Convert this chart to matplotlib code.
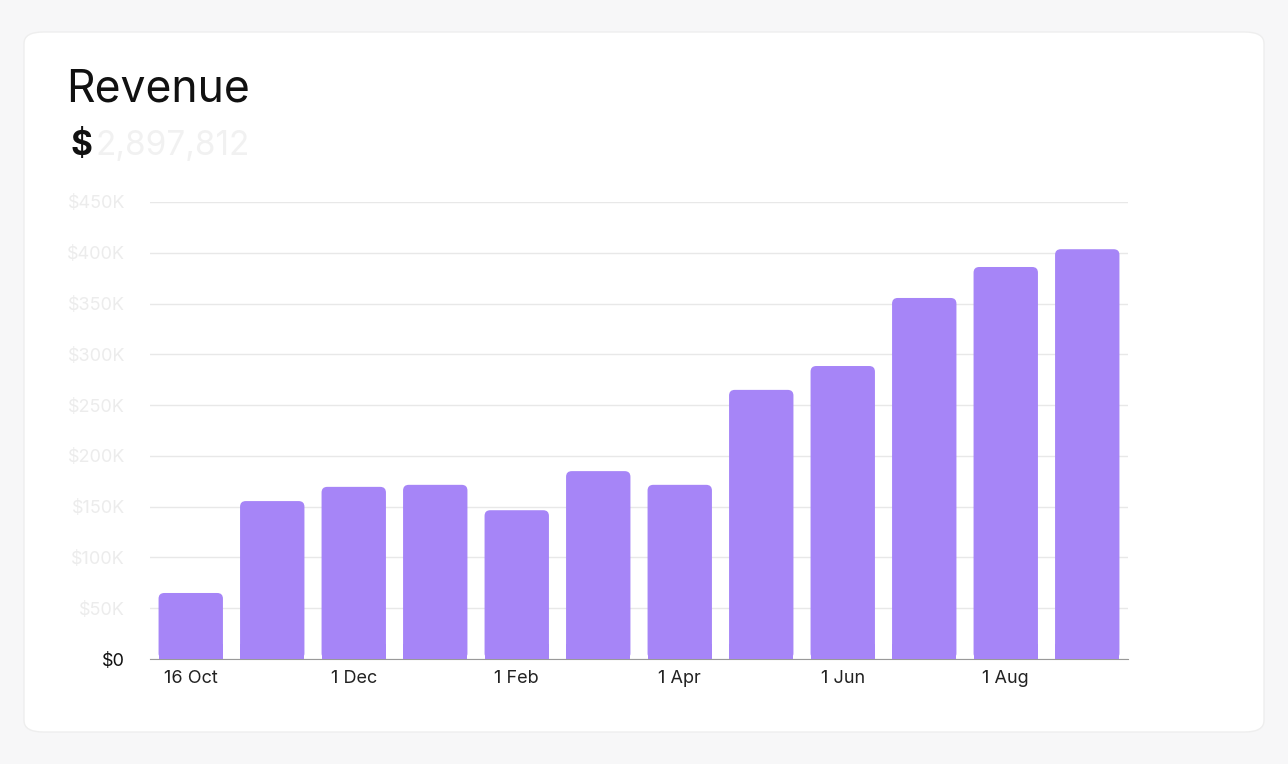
import matplotlib

matplotlib.use("Agg")
import matplotlib.pyplot as plt
from matplotlib.patches import FancyBboxPatch, Rectangle

plt.rcParams["font.family"] = ["Inter", "DejaVu Sans"]

# revenue per period, in $50K grid units
months = ["16 Oct", "", "1 Dec", "", "1 Feb", "", "1 Apr", "", "1 Jun", "", "1 Aug", ""]
revenue = [1.30, 3.11, 3.39, 3.43, 2.93, 3.70, 3.43, 5.30, 5.77, 7.11, 7.72, 8.07]
grid_labels = ["$0", "$50K", "$100K", "$150K", "$200K", "$250K", "$300K", "$350K", "$400K", "$450K"]

W, H = 1288, 764
fig = plt.figure(figsize=(W / 100, H / 100), dpi=100)
fig.patch.set_facecolor("#f7f7f8")

# card behind everything
card = FancyBboxPatch((24 / W, 32 / H), 1240 / W, 700 / H,
                      boxstyle="round,pad=0,rounding_size=0.015",
                      transform=fig.transFigure, facecolor="white",
                      edgecolor="#eeeeee", linewidth=1, zorder=-10)
fig.patches.append(card)

fig.text(66 / W, 1 - 90 / H, "Revenue", fontsize=32, color="#111111", va="center")
fig.text(70 / W, 1 - 146 / H, "$", fontsize=24, fontweight="bold", color="#111111", va="center")
fig.text(96 / W, 1 - 146 / H, "2,897,812", fontsize=24, color="#eeeeee", va="center", alpha=0.8)

ax = fig.add_axes([150 / W, 105 / H, 978 / W, 457 / H])
ax.set_zorder(5)
ax.set_facecolor("none")
ax.set_xlim(-0.5, len(revenue) - 0.5)
ax.set_ylim(0, 9)

color = "#a685f7"
bw = 0.79
aspect = 81.5 / 50.8
for i, v in enumerate(revenue):
    ax.add_patch(FancyBboxPatch((i - bw / 2, 0), bw, v,
                                boxstyle="round,pad=0,rounding_size=0.07",
                                mutation_aspect=aspect, facecolor=color,
                                edgecolor="none", zorder=3))
    ax.add_patch(Rectangle((i - bw / 2, 0), bw, 0.3, facecolor=color,
                           edgecolor="none", zorder=3))

ax.set_yticks(range(10))
ax.set_yticklabels(grid_labels)
ax.grid(axis="y", color="#e8e8e8", linewidth=1, zorder=0)
ax.set_axisbelow(True)
ax.set_xticks(range(len(months)))
ax.set_xticklabels(months)
ax.tick_params(axis="both", length=0, labelsize=13, colors="#222222", pad=8)
ax.tick_params(axis="y", pad=18)
for i, lbl in enumerate(ax.get_yticklabels()):
    lbl.set_color("#111111" if i == 0 else "#ececec")
for s in ["top", "right", "left"]:
    ax.spines[s].set_visible(False)
ax.spines["bottom"].set_color("#999999")

fig.savefig("out.png", dpi=100)
